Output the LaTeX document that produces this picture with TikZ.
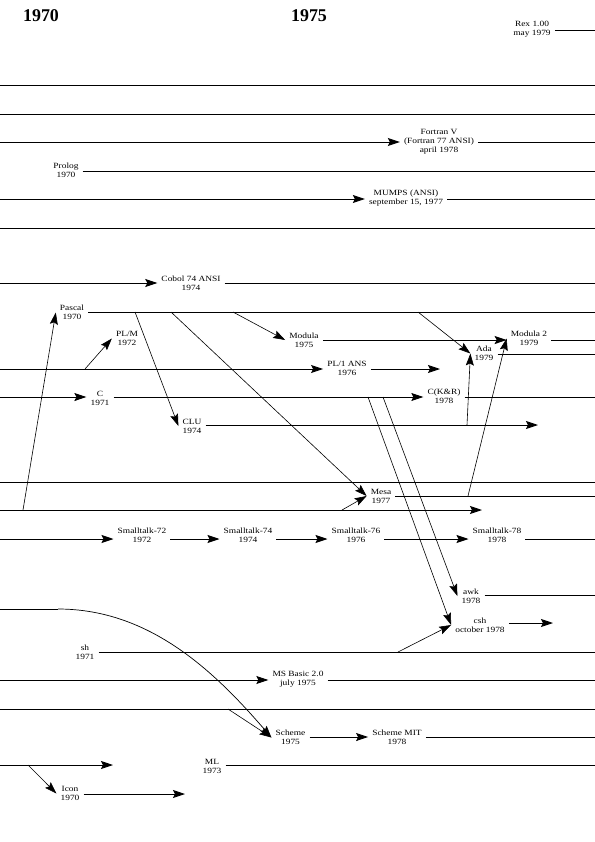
\documentclass[tikz,border=0pt]{standalone}
\usepackage{fontspec}
\setmainfont{Liberation Serif}[FakeStretch=1.18]
\newfontfamily\hdrfont{Liberation Serif}
\usetikzlibrary{arrows.meta}
\begin{document}
\begin{tikzpicture}[x=1bp,y=-1bp,
  lbl/.style={font=\fontsize{8}{9}\selectfont, align=center, inner xsep=4bp, inner ysep=1bp},
  hdr/.style={font=\hdrfont\bfseries\fontsize{18}{20}\selectfont, inner sep=0pt},
  hl/.style={line width=0.9bp},
  tipx/.style={-{Stealth[length=12bp,width=8bp,inset=2bp]}},
  hla/.style={hl, tipx},
  dg/.style={line width=0.6bp, tipx},
]
\useasboundingbox (0,0) rectangle (595,842);

% headers
\node[hdr] (y1970) at (41,16) {1970};
\node[hdr] (y1975) at (309,16) {1975};

% Rex
\node[lbl] (rex) at (532,29.5) {Rex 1.00\\may 1979};
\coordinate (rexR) at (595,30);
\draw[hl] (rex.east |- rexR) -- (rexR);

% plain lines
\coordinate (l85a) at (0,85);   \coordinate (l85b) at (595,85);
\coordinate (l114a) at (0,114); \coordinate (l114b) at (595,114);
\coordinate (l228a) at (0,228); \coordinate (l228b) at (595,228);
\coordinate (l482a) at (0,482); \coordinate (l482b) at (595,482);
\coordinate (l709a) at (0,709); \coordinate (l709b) at (595,709);
\draw[hl] (l85a) -- (l85b);
\draw[hl] (l114a) -- (l114b);
\draw[hl] (l228a) -- (l228b);
\draw[hl] (l482a) -- (l482b);
\draw[hl] (l709a) -- (l709b);

% Fortran
\node[lbl] (fortran) at (439,142) {Fortran V\\(Fortran 77 ANSI)\\april 1978};
\coordinate (fL) at (0,142); \coordinate (fR) at (595,142);
\draw[hla] (fL) -- (fortran.west |- fL);
\draw[hl] (fortran.east |- fL) -- (fR);

% Prolog
\node[lbl] (prolog) at (66,170.5) {Prolog\\1970};
\coordinate (pR) at (595,171);
\draw[hl] (prolog.east |- pR) -- (pR);

% MUMPS
\node[lbl] (mumps) at (406,198) {MUMPS (ANSI)\\september 15, 1977};
\coordinate (mL) at (0,199); \coordinate (mR) at (595,199);
\draw[hla] (mL) -- (mumps.west |- mL);
\draw[hl] (mumps.east |- mL) -- (mR);

% Cobol
\node[lbl] (cobol) at (191,283) {Cobol 74 ANSI\\1974};
\coordinate (cbL) at (0,283); \coordinate (cbR) at (595,283);
\draw[hla] (cbL) -- (cobol.west |- cbL);
\draw[hl] (cobol.east |- cbL) -- (cbR);

% Pascal
\node[lbl] (pascal) at (72,312.5) {Pascal\\1970};
\coordinate (psR) at (595,312);
\draw[hl] (pascal.east |- psR) -- (psR);
\coordinate (ps1) at (135,312);
\coordinate (ps2) at (171,312);
\coordinate (ps3) at (233,312);
\coordinate (ps4) at (418,312);

% Modula, Modula 2, Ada
\node[lbl] (modula) at (304,340) {Modula\\1975};
\node[lbl] (modula2) at (529,338.5) {Modula 2\\1979};
\node[lbl] (ada) at (484,353.5) {Ada\\1979};
\coordinate (mdY) at (0,340); \coordinate (mdR) at (595,340);
\draw[hla] (modula.east |- mdY) -- (modula2.west |- mdY);
\draw[hl] (modula2.east |- mdY) -- (mdR);
\coordinate (adR) at (595,354);
\draw[hl] (ada.east |- adR) -- (adR);

% PL/M
\node[lbl] (plm) at (127,338.5) {PL/M\\1972};

% PL/1
\node[lbl] (pl1) at (347,368) {PL/1 ANS\\1976};
\coordinate (p1L) at (0,369); \coordinate (p1R) at (440,369);
\coordinate (p1b) at (85,369);
\draw[hla] (p1L) -- (pl1.west |- p1L);
\draw[hla] (pl1.east |- p1L) -- (p1R);

% C
\node[lbl] (c) at (100,398) {C\\1971};
\node[lbl] (ckr) at (444,396) {C(K\&R)\\1978};
\coordinate (cL) at (0,397); \coordinate (cR) at (595,397);
\draw[hla] (cL) -- (c.west |- cL);
\draw[hla] (c.east |- cL) -- (ckr.west |- cL);
\draw[hl] (ckr.east |- cL) -- (cR);
\coordinate (c1) at (368,397);
\coordinate (c2) at (383,397);

% CLU
\node[lbl] (clu) at (192,426) {CLU\\1974};
\coordinate (clR) at (538,425);
\draw[hla] (clu.east |- clR) -- (clR);
\coordinate (cl1) at (467,425);

% Mesa
\node[lbl] (mesa) at (381,496) {Mesa\\1977};
\coordinate (msR) at (595,496);
\draw[hl] (mesa.east |- msR) -- (msR);
\coordinate (ms1) at (468,496);

% line 510
\coordinate (l510a) at (0,510); \coordinate (l510b) at (482,510);
\draw[hla] (l510a) -- (l510b);
\coordinate (b1) at (23,510);
\coordinate (b2) at (342,510);

% Smalltalk
\node[lbl] (st72) at (142,535.5) {Smalltalk-72\\1972};
\node[lbl] (st74) at (248,535.5) {Smalltalk-74\\1974};
\node[lbl] (st76) at (356,535.5) {Smalltalk-76\\1976};
\node[lbl] (st78) at (497,535.5) {Smalltalk-78\\1978};
\coordinate (stL) at (0,539); \coordinate (stR) at (595,539);
\draw[hla] (stL) -- (st72.west |- stL);
\draw[hla] (st72.east |- stL) -- (st74.west |- stL);
\draw[hla] (st74.east |- stL) -- (st76.west |- stL);
\draw[hla] (st76.east |- stL) -- (st78.west |- stL);
\draw[hl] (st78.east |- stL) -- (stR);

% awk
\node[lbl] (awk) at (471,596) {awk\\1978};
\coordinate (awR) at (595,595);
\draw[hl] (awk.east |- awR) -- (awR);

% csh
\node[lbl] (csh) at (480,625) {csh\\october 1978};
\coordinate (csR) at (553,623);
\draw[hla] (csh.east |- csR) -- (csR);

% sh
\node[lbl] (sh) at (85,652.5) {sh\\1971};
\coordinate (shR) at (595,652);
\draw[hl] (sh.east |- shR) -- (shR);
\coordinate (sh1) at (398,652);

% MS Basic
\node[lbl] (msb) at (298,679.5) {MS Basic 2.0\\july 1975};
\coordinate (mbL) at (0,680); \coordinate (mbR) at (595,680);
\draw[hla] (mbL) -- (msb.west |- mbL);
\draw[hl] (msb.east |- mbL) -- (mbR);

% Scheme
\node[lbl] (scheme) at (290.5,737.5) {Scheme\\1975};
\node[lbl] (schemit) at (397,737.5) {Scheme MIT\\1978};
\coordinate (scR) at (595,737);
\draw[hla] (scheme.east |- scR) -- (schemit.west |- scR);
\draw[hl] (schemit.east |- scR) -- (scR);
\coordinate (l709c) at (228,709);

% curve into Scheme
\coordinate (cvA) at (0,609); \coordinate (cvB) at (58,609);
\draw[hl] (cvA) -- (cvB);
\draw[line width=0.7bp, tipx] (cvB) .. controls (150,609) and (215,672) .. (scheme.west);

% line 765, ML, Icon
\coordinate (l765a) at (0,765); \coordinate (l765b) at (113,765);
\draw[hla] (l765a) -- (l765b);
\coordinate (l765c) at (28,765);
\node[lbl] (ml) at (212,766.5) {ML\\1973};
\coordinate (mlR) at (595,765);
\draw[hl] (ml.east |- mlR) -- (mlR);
\node[lbl] (icon) at (70,793.5) {Icon\\1970};
\coordinate (icR) at (185,794);
\draw[hla] (icon.east |- icR) -- (icR);

% diagonal connectors
\draw[dg] (b1) -- (pascal.west);
\draw[dg] (p1b) -- (plm.west);
\draw[dg] (ps1) -- (clu.west);
\draw[dg] (ps2) -- (mesa.west);
\draw[dg] (ps3) -- (modula.west);
\draw[dg] (ps4) -- (ada.west);
\draw[dg] (cl1) -- (ada.west);
\draw[dg] (ms1) -- (modula2.west);
\draw[dg] (b2) -- (mesa.west);
\draw[dg] (c1) -- (csh.west);
\draw[dg] (c2) -- (awk.west);
\draw[dg] (sh1) -- (csh.west);
\draw[dg] (l709c) -- (scheme.west);
\draw[dg] (l765c) -- (icon.west);
\end{tikzpicture}
\end{document}
